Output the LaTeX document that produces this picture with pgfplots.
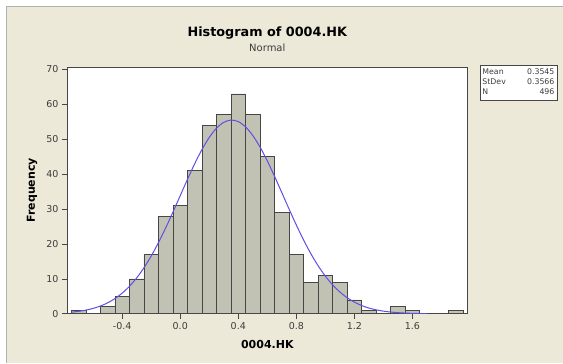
\documentclass[border=0pt]{standalone}
\usepackage{pgfplots}
\pgfplotsset{compat=1.18}
\usetikzlibrary{backgrounds}
\usepackage{fontspec}
\setmainfont{DejaVu Sans}
\definecolor{bgc}{RGB}{236,233,216}
\definecolor{barc}{RGB}{194,194,180}
\definecolor{edgec}{RGB}{70,70,70}
\definecolor{curvec}{RGB}{95,80,225}
\definecolor{txtc}{RGB}{60,60,60}
\begin{document}
\begin{tikzpicture}[x=1pt,y=1pt]
\begin{axis}[scale only axis,
  width=401pt, height=247pt,
  xmin=-0.781, xmax=1.981, ymin=0, ymax=70.7,
  axis background/.style={fill=white},
  axis line style={edgec, line width=0.8pt},
  xtick={-0.4,0,0.4,0.8,1.2,1.6}, ytick={0,10,20,30,40,50,60,70},
  tick align=outside, major tick length=5pt,
  tick style={edgec, line width=0.6pt},
  xtick pos=bottom, ytick pos=left,
  xticklabel style={/pgf/number format/.cd, fixed, fixed zerofill, precision=1},
  /pgf/number format/assume math mode=true,
  ticklabel style={font=\fontsize{9.5}{10}\selectfont, text=txtc},
  xlabel={0004.HK}, ylabel={Frequency},
  xlabel style={font=\bfseries\fontsize{11}{12}\selectfont, text=black, at={(axis description cs:0.5,0)}, anchor=center, yshift=-31pt},
  ylabel style={font=\bfseries\fontsize{11}{12}\selectfont, text=black, at={(axis description cs:-0.0873,0.5)}, anchor=center},
  clip=true,
]
\coordinate (bl) at (rel axis cs:0,0);
\addplot[ybar, bar width=0.1, fill=barc, draw=edgec, line width=0.6pt] table {
x y
-0.7 1
-0.5 2
-0.4 5
-0.3 10
-0.2 17
-0.1 28
0.0 31
0.1 41
0.2 54
0.3 57
0.4 63
0.5 57
0.6 45
0.7 29
0.8 17
0.9 9
1.0 11
1.1 9
1.2 4
1.3 1
1.5 2
1.6 1
1.9 1
};
\addplot[curvec, line width=1pt, smooth, no marks] table {
x y
-0.75 0.458
-0.70 0.700
-0.65 1.050
-0.60 1.543
-0.55 2.224
-0.50 3.143
-0.45 4.355
-0.40 5.916
-0.35 7.883
-0.30 10.295
-0.25 13.190
-0.20 16.562
-0.15 20.397
-0.10 24.629
-0.05 29.161
0.00 33.854
0.05 38.537
0.10 43.011
0.15 47.076
0.20 50.517
0.25 53.156
0.30 54.845
0.35 55.485
0.40 55.039
0.45 53.534
0.50 51.058
0.55 47.747
0.60 43.782
0.65 39.364
0.70 34.703
0.75 29.998
0.80 25.428
0.85 21.133
0.90 17.222
0.95 13.762
1.00 10.780
1.05 8.285
1.10 6.240
1.15 4.609
1.20 3.338
1.25 2.370
1.30 1.650
1.35 1.127
1.40 0.754
1.45 0.495
1.50 0.319
1.55 0.201
1.60 0.124
1.65 0.075
1.70 0.045
};
\end{axis}
\begin{scope}[shift={(bl)}, xshift=-67pt, yshift=-49pt]
\begin{scope}[on background layer]
\fill[white] (0,0) rectangle (563,363);
\fill[bgc] (6,0) rectangle (563,357);
\draw[gray!60, line width=0.8pt] (6,0) -- (6,357) -- (563,357);
\end{scope}
\node[font=\bfseries\fontsize{12.8}{14}\selectfont, text=black] at (267.5,330) {Histogram of 0004.HK};
\node[font=\fontsize{10}{11}\selectfont, text=txtc] at (267.5,315) {Normal};
\node[draw=edgec, fill=white, line width=0.6pt, inner sep=2.5pt, anchor=north west, font=\fontsize{7.8}{10}\selectfont, text=txtc] at (480,298) {%
\begin{tabular*}{72pt}{@{}l@{\extracolsep{\fill}}r@{}}
Mean & 0.3545\\
StDev & 0.3566\\
N & 496
\end{tabular*}};
\end{scope}
\end{tikzpicture}
\end{document}
